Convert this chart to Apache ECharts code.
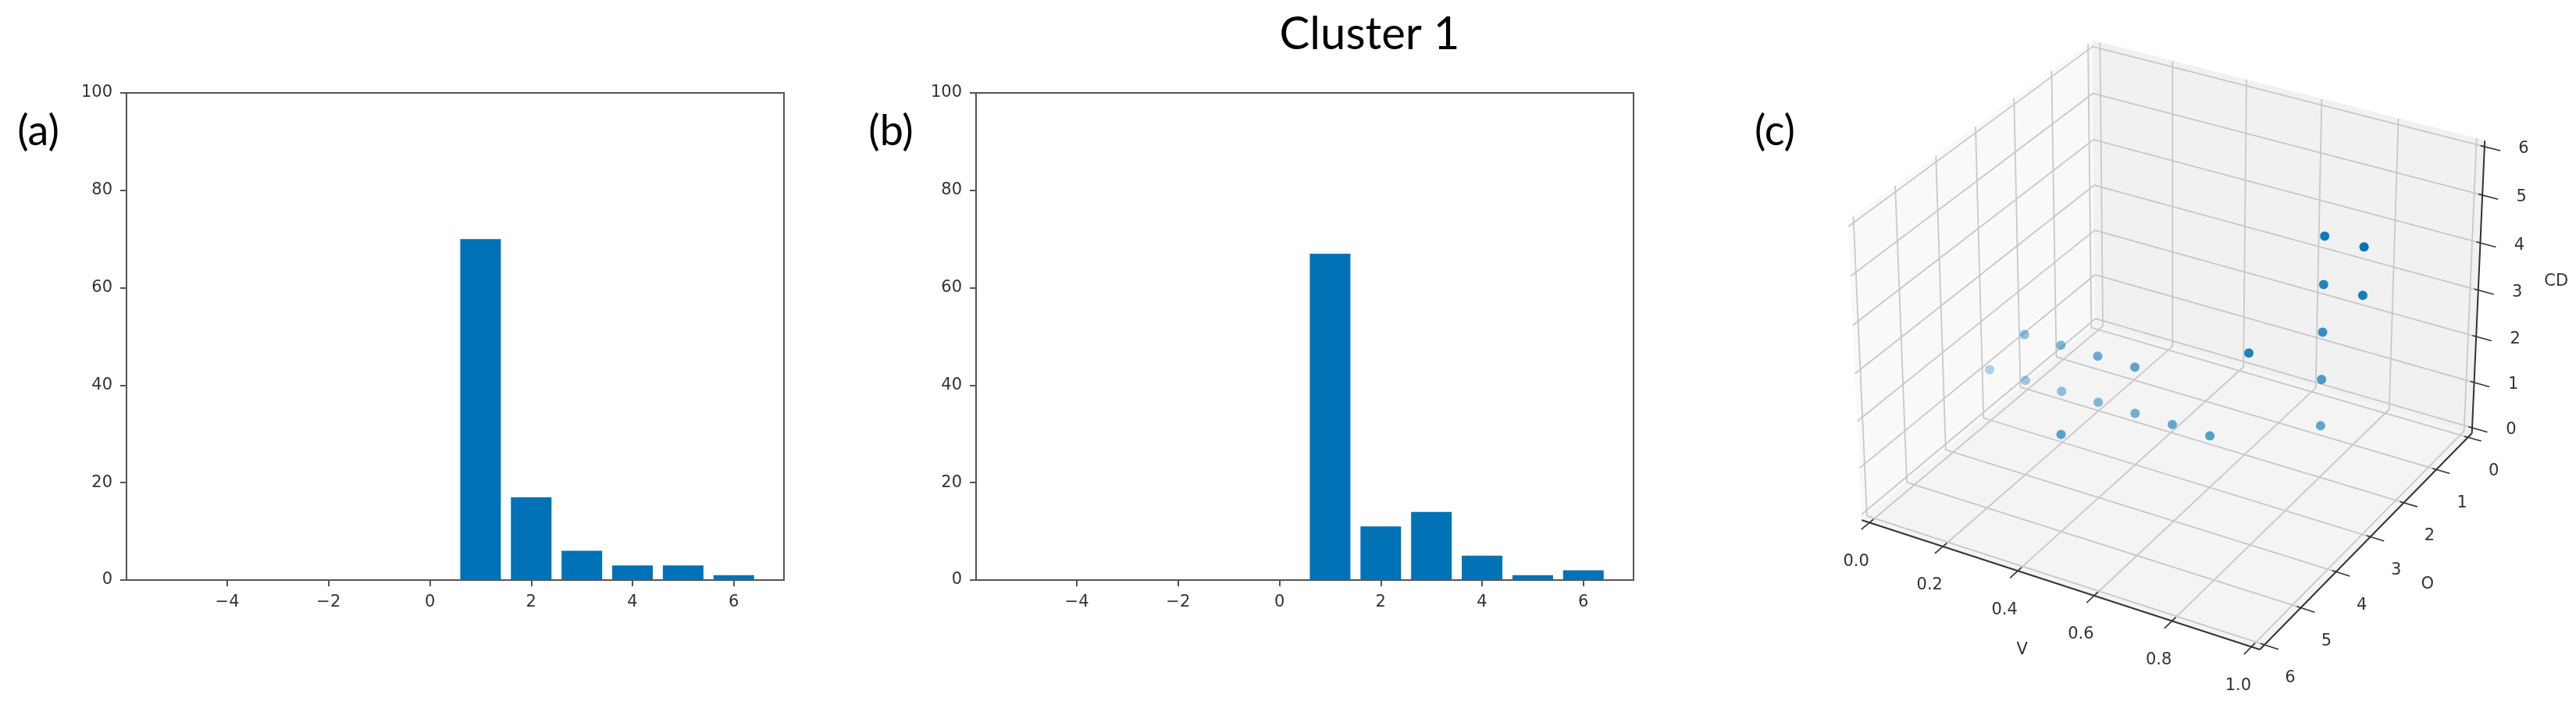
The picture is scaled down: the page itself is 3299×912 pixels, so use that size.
<!DOCTYPE html>
<html>
<head>
<meta charset="utf-8">
<script src="https://cdn.jsdelivr.net/npm/echarts@6/dist/echarts.min.js"></script>
<style>
  html, body { margin: 0; padding: 0; background: #fff; }
  #chart { width: 3299px; height: 912px; }
</style>
</head>
<body>
<div id="chart"></div>
<script>
// histogram panels (a) and (b): bar centres and counts
var bins = [-5, -4, -3, -2, -1, 0, 1, 2, 3, 4, 5, 6];
var countsA = [0, 0, 0, 0, 0, 0, 70, 17, 6, 3, 3, 1];
var countsB = [0, 0, 0, 0, 0, 0, 67, 11, 14, 5, 1, 2];
var histTicks = [-4, -2, 0, 2, 4, 6];

// 3D scatter panel (c)
var pointV  = [0, 0.1, 0.2, 0.3, 0.4, 0.5, 0.6, 0.1, 0.2, 0.3, 0.4, 0.3, 0.7, 0.8, 0.8, 0.8, 0.8, 0.8, 0.9, 0.9];
var pointO  = [3, 3, 3, 3, 3, 3, 3, 3, 3, 3, 3, 4, 3, 2, 2, 2, 2, 2, 2, 2];
var pointCD = [1, 1, 1, 1, 1, 1, 1, 2, 2, 2, 2, 1, 3, 1, 2, 3, 4, 5, 4, 5];
var vTicks  = [0, 0.2, 0.4, 0.6, 0.8, 1.0];
var oTicks  = [0, 1, 2, 3, 4, 5, 6];
var cdTicks = [0, 1, 2, 3, 4, 5, 6];

var BLUE = '#0072b5';
var INK = '#333';
var TICK_FONT = '21px "DejaVu Sans"';

// --- matplotlib-like perspective projection (elev 30, azim -60) ---
var ELEV = 30, AZIM = -60, DIST = 10;
var vLim = [-1 / 48, 1 + 1 / 48];
var oLim = [6 + 6 / 48, -6 / 48];   // O is shown reversed: 6 at the front
var zLim = [-6 / 48, 6 + 6 / 48];
var boxNorm = 1.8294640721620434 / Math.sqrt(4 * 4 + 4 * 4 + 3 * 3);
var box = [4 * boxNorm, 4 * boxNorm, 3 * boxNorm];
var el = ELEV * Math.PI / 180, az = AZIM * Math.PI / 180;
var W = [Math.cos(el) * Math.cos(az), Math.cos(el) * Math.sin(az), Math.sin(el)];
var U = [-Math.sin(az), Math.cos(az), 0];
var UP = [W[1] * U[2] - W[2] * U[1], W[2] * U[0] - W[0] * U[2], W[0] * U[1] - W[1] * U[0]];

function dot(a, b) { return a[0] * b[0] + a[1] * b[1] + a[2] * b[2]; }

function project(v, o, z) {
  var q = [
    ((v - vLim[0]) / (vLim[1] - vLim[0]) - 0.5) * box[0],
    ((o - oLim[0]) / (oLim[1] - oLim[0]) - 0.5) * box[1],
    ((z - zLim[0]) / (zLim[1] - zLim[0]) - 0.5) * box[2]
  ];
  var d = DIST - dot(q, W);
  return [dot(q, U) / d, dot(q, UP) / d, d];
}

// screen placement of the projected plane
var SCALE = 5110, CX = 2782, CY = 424;
var G3 = { left: 2200, top: 0, width: 1099, height: 912 };

// scatter points, far ones first, faded by depth
var pts = pointV.map(function (v, i) { return project(v, pointO[i], pointCD[i]); });
var dMin = Math.min.apply(null, pts.map(function (p) { return p[2]; }));
var dMax = Math.max.apply(null, pts.map(function (p) { return p[2]; }));
var scatterData = pts.map(function (p) {
  return {
    value: [p[0], p[1]],
    depth: p[2],
    itemStyle: { opacity: 1 - 0.7 * (p[2] - dMin) / (dMax - dMin) }
  };
}).sort(function (a, b) { return b.depth - a.depth; });

function minusFmt(v) { return v < 0 ? '\u2212' + Math.abs(v) : String(v); }

function renderFrame(params, api) {
  var ch = [];
  var v0 = vLim[0], v1 = vLim[1], oF = oLim[0], oB = oLim[1], z0 = zLim[0], z1 = zLim[1];
  function pt(v, o, z) { var p = project(v, o, z); return api.coord([p[0], p[1]]); }
  function poly(p, fill) {
    ch.push({ type: 'polygon', shape: { points: p }, style: { fill: fill, stroke: fill, lineWidth: 1 } });
  }
  function line(p, color, w) {
    ch.push({ type: 'polyline', shape: { points: p }, style: { stroke: color, lineWidth: w, fill: null, lineJoin: 'round' } });
  }
  function label(s, p, dx, dy) {
    ch.push({ type: 'text', x: p[0] + dx, y: p[1] + dy,
      style: { text: s, font: TICK_FONT, fill: INK, align: 'center', verticalAlign: 'middle' } });
  }

  // panes
  poly([pt(v0, oF, z0), pt(v0, oB, z0), pt(v0, oB, z1), pt(v0, oF, z1)], '#f9f9f9');
  poly([pt(v0, oB, z0), pt(v1, oB, z0), pt(v1, oB, z1), pt(v0, oB, z1)], '#f1f1f1');
  poly([pt(v0, oF, z0), pt(v1, oF, z0), pt(v1, oB, z0), pt(v0, oB, z0)], '#f4f4f4');

  // grid lines
  var GC = '#c8c8c8', GW = 1.8;
  vTicks.forEach(function (v) { line([pt(v, oF, z0), pt(v, oB, z0), pt(v, oB, z1)], GC, GW); });
  oTicks.forEach(function (o) { line([pt(v1, o, z0), pt(v0, o, z0), pt(v0, o, z1)], GC, GW); });
  cdTicks.forEach(function (z) { line([pt(v0, oF, z), pt(v0, oB, z), pt(v1, oB, z)], GC, GW); });

  // axis lines
  var AC = '#333', AW = 2;
  line([pt(v0, oF, z0), pt(v1, oF, z0)], AC, AW);
  line([pt(v1, oF, z0), pt(v1, oB, z0)], AC, AW);
  line([pt(v1, oB, z0), pt(v1, oB, z1)], AC, AW);

  // ticks and tick labels
  vTicks.forEach(function (v) {
    line([pt(v, oF - 0.1, z0), pt(v, oF + 0.2, z0)], AC, 1.6);
    label(v.toFixed(1), pt(v, oF, z0), -17, 50);
  });
  oTicks.forEach(function (o) {
    line([pt(v1 - 0.01, o, z0), pt(v1 + 0.035, o, z0)], AC, 1.6);
    label(String(o), pt(v1, o, z0), 33, 43);
  });
  cdTicks.forEach(function (z) {
    line([pt(v1 - 0.01, oB, z), pt(v1 + 0.04, oB, z)], AC, 1.6);
    label(String(z), pt(v1, oB, z), 50, 3);
  });

  // axis titles
  label('V', pt(0.5, oF, z0), -43, 86);
  label('O', pt(v1, 3, z0), 73, 61);
  label('CD', pt(v1, oB, 3), 100, -11);

  return { type: 'group', children: ch };
}

function histXAxis(idx) {
  return {
    type: 'value', gridIndex: idx, min: -5.99, max: 6.99,
    axisLine: { show: true, onZero: false, lineStyle: { color: '#555', width: 2 } },
    axisTick: { show: true, customValues: histTicks, length: 8, lineStyle: { color: '#555', width: 2 } },
    axisLabel: { customValues: histTicks, formatter: minusFmt, margin: 18,
      color: INK, fontSize: 21, fontFamily: 'DejaVu Sans' },
    splitLine: { show: false }
  };
}
function histYAxis(idx) {
  return {
    type: 'value', gridIndex: idx, min: 0, max: 100, interval: 20,
    axisLine: { show: true, onZero: false, lineStyle: { color: '#555', width: 2 } },
    axisTick: { show: true, length: 8, lineStyle: { color: '#555', width: 2 } },
    axisLabel: { margin: 18, color: INK, fontSize: 21, fontFamily: 'DejaVu Sans' },
    splitLine: { show: false }
  };
}
function histSeries(idx, counts) {
  return {
    type: 'bar', xAxisIndex: idx, yAxisIndex: idx,
    data: bins.map(function (b, i) { return [b, counts[i]]; }),
    barWidth: 52,
    itemStyle: { color: BLUE },
    animation: false
  };
}

var chart = echarts.init(document.getElementById('chart'));

var option = {
  animation: false,
  backgroundColor: '#fff',
  grid: [
    { left: 162, top: 119, width: 842, height: 624, show: true, borderColor: '#555', borderWidth: 2, backgroundColor: 'transparent' },
    { left: 1250, top: 119, width: 842, height: 624, show: true, borderColor: '#555', borderWidth: 2, backgroundColor: 'transparent' },
    { left: G3.left, top: G3.top, width: G3.width, height: G3.height }
  ],
  xAxis: [
    histXAxis(0),
    histXAxis(1),
    { type: 'value', gridIndex: 2, show: false,
      min: (G3.left - CX) / SCALE, max: (G3.left + G3.width - CX) / SCALE }
  ],
  yAxis: [
    histYAxis(0),
    histYAxis(1),
    { type: 'value', gridIndex: 2, show: false,
      min: (CY - G3.top - G3.height) / SCALE, max: (CY - G3.top) / SCALE }
  ],
  graphic: [
    { type: 'text', x: 1754, y: 44, style: { text: 'Cluster 1', font: '58px Lato', fill: '#000', align: 'center', verticalAlign: 'middle' } },
    { type: 'text', x: 49, y: 169, style: { text: '(a)', font: '54px Lato', fill: '#000', align: 'center', verticalAlign: 'middle' } },
    { type: 'text', x: 1141, y: 169, style: { text: '(b)', font: '54px Lato', fill: '#000', align: 'center', verticalAlign: 'middle' } },
    { type: 'text', x: 2273, y: 169, style: { text: '(c)', font: '54px Lato', fill: '#000', align: 'center', verticalAlign: 'middle' } }
  ],
  series: [
    histSeries(0, countsA),
    histSeries(1, countsB),
    {
      type: 'custom', xAxisIndex: 2, yAxisIndex: 2,
      data: [[0, 0]], renderItem: renderFrame, z: 1, silent: true, clip: false
    },
    {
      type: 'scatter', xAxisIndex: 2, yAxisIndex: 2,
      data: scatterData, symbol: 'circle', symbolSize: 12,
      itemStyle: { color: BLUE }, z: 3, silent: true
    }
  ]
};

chart.setOption(option);
window.onresize = chart.resize;
</script>
</body>
</html>
